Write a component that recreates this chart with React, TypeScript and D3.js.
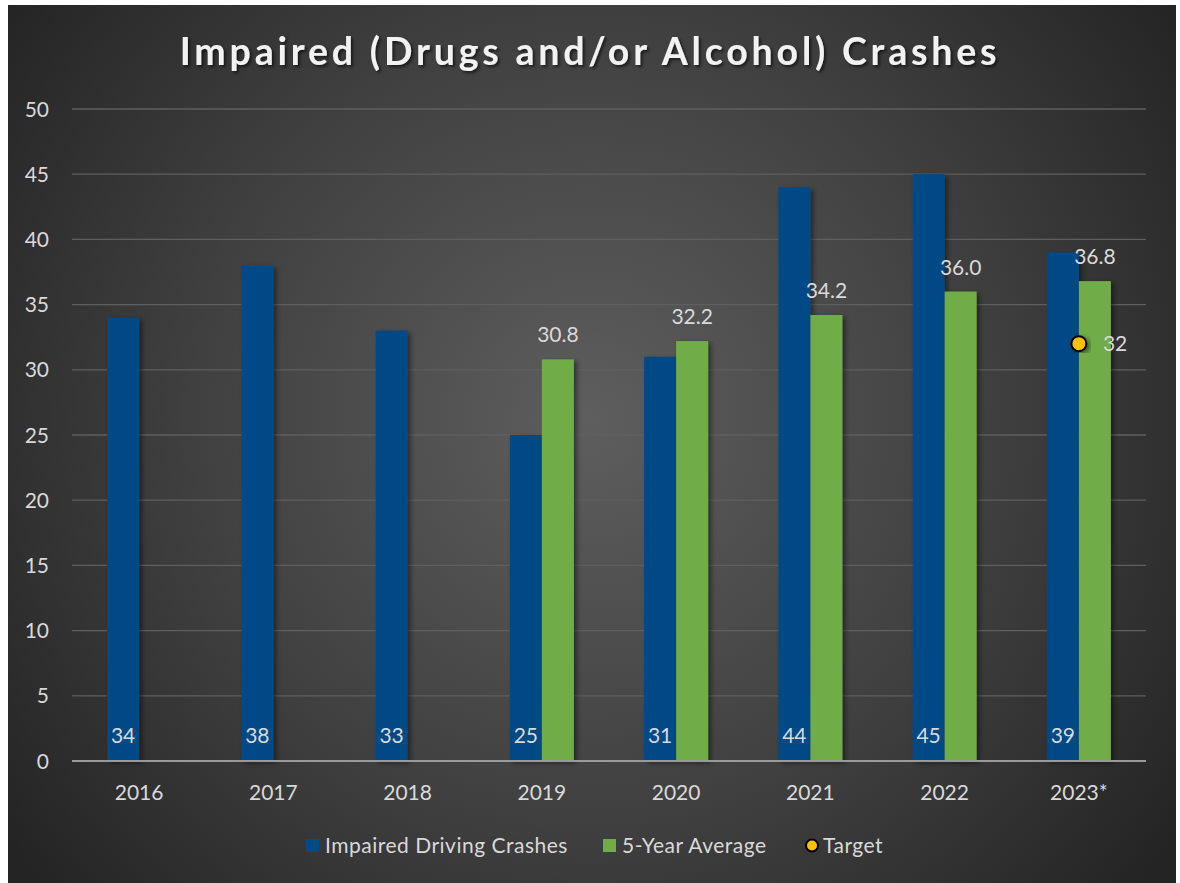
import React from "react";
import * as d3 from "d3";

const categories = ["2016", "2017", "2018", "2019", "2020", "2021", "2022", "2023*"];
const crashes = [34, 38, 33, 25, 31, 44, 45, 39];
const fiveYearAvg: (number | null)[] = [null, null, null, 30.8, 32.2, 34.2, 36.0, 36.8];
const target: (number | null)[] = [null, null, null, null, null, null, null, 32];
const yTicks = [0, 5, 10, 15, 20, 25, 30, 35, 40, 45, 50];
const legendItems = ["Impaired Driving Crashes", "5-Year Average", "Target"];

const W = 1180;
const H = 883;
const FONT = "Lato, 'Open Sans', sans-serif";
const BLUE = "#004A87";
const GREEN = "#70AD47";
const GOLD = "#FFC000";
const TXT = "#D9D9D9";
const FS = 21;

export default function App() {
  const x = d3.scaleBand<string>().domain(categories).range([72, 1146]).paddingInner(0).paddingOuter(0);
  const y = d3.scaleLinear().domain([0, 50]).range([761, 109]);
  const barW = 32;

  return (
    <svg width={W} height={H} style={{ position: "absolute", left: 0, top: 0, background: "#fff" }}>
      <defs>
        <radialGradient id="bg" gradientUnits="userSpaceOnUse" cx={590} cy={420} r={720}>
          <stop offset="0" stopColor="#5e5e5e" />
          <stop offset="0.55" stopColor="#404040" />
          <stop offset="1" stopColor="#242424" />
        </radialGradient>
        <filter id="sh" x="-30%" y="-10%" width="160%" height="120%">
          <feDropShadow dx="3" dy="2" stdDeviation="2.5" floodColor="#000" floodOpacity="0.45" />
        </filter>
        <filter id="tsh" x="-10%" y="-30%" width="120%" height="160%">
          <feDropShadow dx="2" dy="2" stdDeviation="1.5" floodColor="#000" floodOpacity="0.6" />
        </filter>
      </defs>
      <rect x={8} y={5} width={1168} height={H - 5} fill="url(#bg)" />

      <text x={590} y={65} textAnchor="middle" fill="#F2F2F2" fontFamily={FONT} fontWeight="bold" fontSize={37.5} letterSpacing={3.8} filter="url(#tsh)">
        Impaired (Drugs and/or Alcohol) Crashes
      </text>

      {yTicks.map((t) => (
        <g key={t}>
          {t !== 0 && <line x1={72} x2={1146} y1={y(t)} y2={y(t)} stroke="#5f5f5f" strokeWidth={1.3} />}
          <text x={49} y={y(t) + 7.5} textAnchor="end" fill={TXT} fontFamily={FONT} fontSize={FS}>
            {t}
          </text>
        </g>
      ))}

      {categories.map((c, i) => {
        const cx = (x(c) as number) + x.bandwidth() / 2;
        const avg = fiveYearAvg[i];
        return (
          <g key={c}>
            <rect x={cx - barW} y={y(crashes[i])} width={barW} height={y(0) - y(crashes[i])} fill={BLUE} filter="url(#sh)" />
            {avg != null && (
              <rect x={cx} y={y(avg)} width={barW} height={y(0) - y(avg)} fill={GREEN} filter="url(#sh)" />
            )}
          </g>
        );
      })}

      <line x1={72} x2={1146} y1={y(0)} y2={y(0)} stroke="#9a9a9a" strokeWidth={2} />

      {categories.map((c, i) => {
        const cx = (x(c) as number) + x.bandwidth() / 2;
        const avg = fiveYearAvg[i];
        const tg = target[i];
        return (
          <g key={c + "l"}>
            <text x={cx - barW / 2} y={743} textAnchor="middle" fill={TXT} fontFamily={FONT} fontSize={FS}>
              {crashes[i]}
            </text>
            {avg != null && (
              <text x={cx + barW / 2} y={y(avg) - 17} textAnchor="middle" fill={TXT} fontFamily={FONT} fontSize={FS}>
                {avg.toFixed(1)}
              </text>
            )}
            {tg != null && (
              <g>
                <circle cx={cx} cy={y(tg)} r={7.5} fill={GOLD} stroke="#000" strokeWidth={2} filter="url(#sh)" />
                <text x={cx + 24} y={y(tg) + 7.5} fill={TXT} fontFamily={FONT} fontSize={FS}>
                  {tg}
                </text>
              </g>
            )}
            <text x={cx} y={800} textAnchor="middle" fill={TXT} fontFamily={FONT} fontSize={FS}>
              {c}
            </text>
          </g>
        );
      })}

      <g fontFamily={FONT} fontSize={FS} fill={TXT} letterSpacing={0.5}>
        <rect x={306} y={839} width={13} height={13} fill={BLUE} />
        <text x={325} y={853}>{legendItems[0]}</text>
        <rect x={603} y={839} width={13} height={13} fill={GREEN} />
        <text x={622} y={853}>{legendItems[1]}</text>
        <circle cx={812} cy={845.5} r={6} fill={GOLD} stroke="#000" strokeWidth={2} />
        <text x={823} y={853}>{legendItems[2]}</text>
      </g>
    </svg>
  );
}
